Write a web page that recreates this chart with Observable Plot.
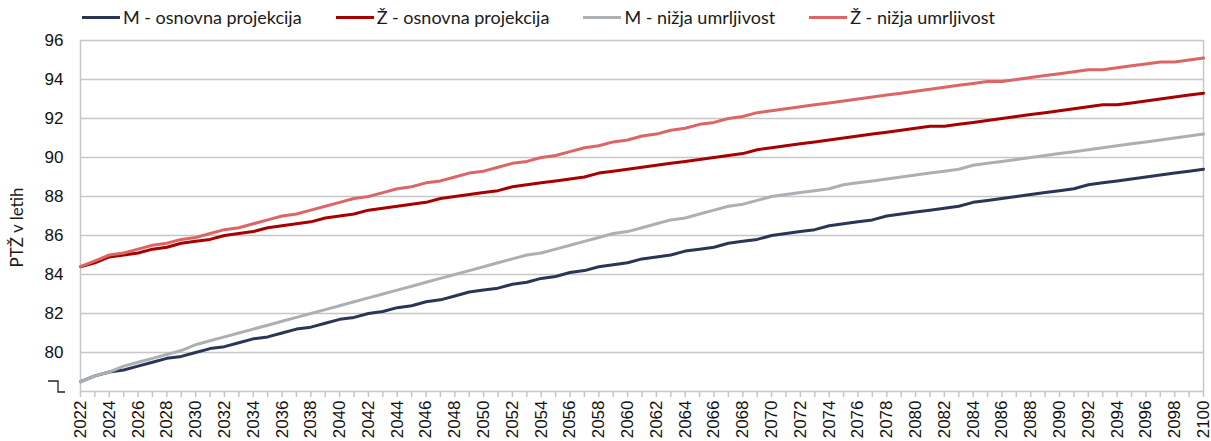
<!DOCTYPE html>
<html><head><meta charset="utf-8">
<script src="https://cdn.jsdelivr.net/npm/d3@7"></script>
<script src="https://cdn.jsdelivr.net/npm/@observablehq/plot@0.6"></script>
<style>
body{margin:0;background:#fff;width:1211px;height:441px;overflow:hidden;}
#legend{height:32px;display:flex;align-items:center;gap:34px;padding-left:82px;font-family:Lato,"Open Sans",sans-serif;font-size:18px;color:#1a1a1a;box-sizing:border-box;padding-top:2px;}
.item{display:flex;align-items:center;white-space:nowrap;}
.sw{width:38px;height:3px;margin-right:3px;}
</style></head>
<body><div id="legend"></div><div id="chart"></div>
<script>
const years = d3.range(2022, 2101);
const seriesNames = ["M - osnovna projekcija", "Ž - osnovna projekcija", "M - nižja umrljivost", "Ž - nižja umrljivost"];
const seriesColors = ["#2b3556", "#a80000", "#abb0b5", "#dc6666"];
const mOsnovna = [78.5,78.8,79.0,79.1,79.3,79.5,79.7,79.8,80.0,80.2,80.3,80.5,80.7,80.8,81.0,81.2,81.3,81.5,81.7,81.8,82.0,82.1,82.3,82.4,82.6,82.7,82.9,83.1,83.2,83.3,83.5,83.6,83.8,83.9,84.1,84.2,84.4,84.5,84.6,84.8,84.9,85.0,85.2,85.3,85.4,85.6,85.7,85.8,86.0,86.1,86.2,86.3,86.5,86.6,86.7,86.8,87.0,87.1,87.2,87.3,87.4,87.5,87.7,87.8,87.9,88.0,88.1,88.2,88.3,88.4,88.6,88.7,88.8,88.9,89.0,89.1,89.2,89.3,89.4];
const zOsnovna = [84.4,84.6,84.9,85.0,85.1,85.3,85.4,85.6,85.7,85.8,86.0,86.1,86.2,86.4,86.5,86.6,86.7,86.9,87.0,87.1,87.3,87.4,87.5,87.6,87.7,87.9,88.0,88.1,88.2,88.3,88.5,88.6,88.7,88.8,88.9,89.0,89.2,89.3,89.4,89.5,89.6,89.7,89.8,89.9,90.0,90.1,90.2,90.4,90.5,90.6,90.7,90.8,90.9,91.0,91.1,91.2,91.3,91.4,91.5,91.6,91.6,91.7,91.8,91.9,92.0,92.1,92.2,92.3,92.4,92.5,92.6,92.7,92.7,92.8,92.9,93.0,93.1,93.2,93.3];
const mNizja = [78.5,78.8,79.0,79.3,79.5,79.7,79.9,80.1,80.4,80.6,80.8,81.0,81.2,81.4,81.6,81.8,82.0,82.2,82.4,82.6,82.8,83.0,83.2,83.4,83.6,83.8,84.0,84.2,84.4,84.6,84.8,85.0,85.1,85.3,85.5,85.7,85.9,86.1,86.2,86.4,86.6,86.8,86.9,87.1,87.3,87.5,87.6,87.8,88.0,88.1,88.2,88.3,88.4,88.6,88.7,88.8,88.9,89.0,89.1,89.2,89.3,89.4,89.6,89.7,89.8,89.9,90.0,90.1,90.2,90.3,90.4,90.5,90.6,90.7,90.8,90.9,91.0,91.1,91.2];
const zNizja = [84.4,84.7,85.0,85.1,85.3,85.5,85.6,85.8,85.9,86.1,86.3,86.4,86.6,86.8,87.0,87.1,87.3,87.5,87.7,87.9,88.0,88.2,88.4,88.5,88.7,88.8,89.0,89.2,89.3,89.5,89.7,89.8,90.0,90.1,90.3,90.5,90.6,90.8,90.9,91.1,91.2,91.4,91.5,91.7,91.8,92.0,92.1,92.3,92.4,92.5,92.6,92.7,92.8,92.9,93.0,93.1,93.2,93.3,93.4,93.5,93.6,93.7,93.8,93.9,93.9,94.0,94.1,94.2,94.3,94.4,94.5,94.5,94.6,94.7,94.8,94.9,94.9,95.0,95.1];
const yTicks = [80, 82, 84, 86, 88, 90, 92, 94, 96];
const yLabel = "PTŽ v letih";

const seriesValues = [mOsnovna, zOsnovna, mNizja, zNizja];
const data = seriesValues.flatMap((vals, i) => vals.map((v, j) => ({year: years[j], value: v, series: seriesNames[i]})));

// legend
const legend = document.getElementById("legend");
seriesNames.forEach((n, i) => {
  const it = document.createElement("div"); it.className = "item";
  const sw = document.createElement("span"); sw.className = "sw"; sw.style.background = seriesColors[i];
  const tx = document.createElement("span"); tx.textContent = n;
  it.append(sw, tx); legend.append(it);
});

const grid = "#c6c6c6";
const plot = Plot.plot({
  width: 1211, height: 409,
  marginTop: 8, marginBottom: 50, marginLeft: 80, marginRight: 8,
  style: {fontFamily: "'Liberation Sans', Arial, sans-serif", fontSize: "17px", color: "#111", background: "#fff", overflow: "visible"},
  x: {domain: [2022, 2100]},
  y: {domain: [78, 96]},
  color: {domain: seriesNames, range: seriesColors},
  marks: [
    Plot.ruleY(yTicks, {stroke: grid, strokeWidth: 1.5}),
    Plot.ruleY([78], {stroke: grid, strokeWidth: 1.5}),
    Plot.ruleX([2022, 2100], {stroke: grid, strokeWidth: 1.5}),
    Plot.axisY({ticks: yTicks, tickSize: 0, tickPadding: 17, label: null}),
    Plot.axisX({ticks: years, tickSize: 6, tickPadding: 3, tickRotate: -90, stroke: grid, strokeWidth: 1.5,
      tickFormat: d => d % 2 === 0 ? String(d) : "", label: null}),
    Plot.lineY(data, {x: "year", y: "value", z: "series", stroke: "series", strokeWidth: 3})
  ]
});
document.getElementById("chart").append(plot);

const ys = plot.scale("y");
// y-axis title, centred on the plot frame
d3.select(plot).append("text")
  .attr("transform", `translate(23,${(ys.apply(96) + ys.apply(78)) / 2 + 12}) rotate(-90)`)
  .attr("text-anchor", "middle")
  .style("font-family", "Lato, 'Open Sans', sans-serif").style("font-size", "17px").attr("fill", "#1a1a1a")
  .text(yLabel);

// axis-break glyph at the bottom of the y axis, placed from the y scale
const y0 = ys.apply(78);
d3.select(plot).append("path")
  .attr("d", `M48,${y0 - 10}H58V${y0 + 1}H65`)
  .attr("fill", "none").attr("stroke", "#222").attr("stroke-width", 1.3);
</script>
</body></html>
